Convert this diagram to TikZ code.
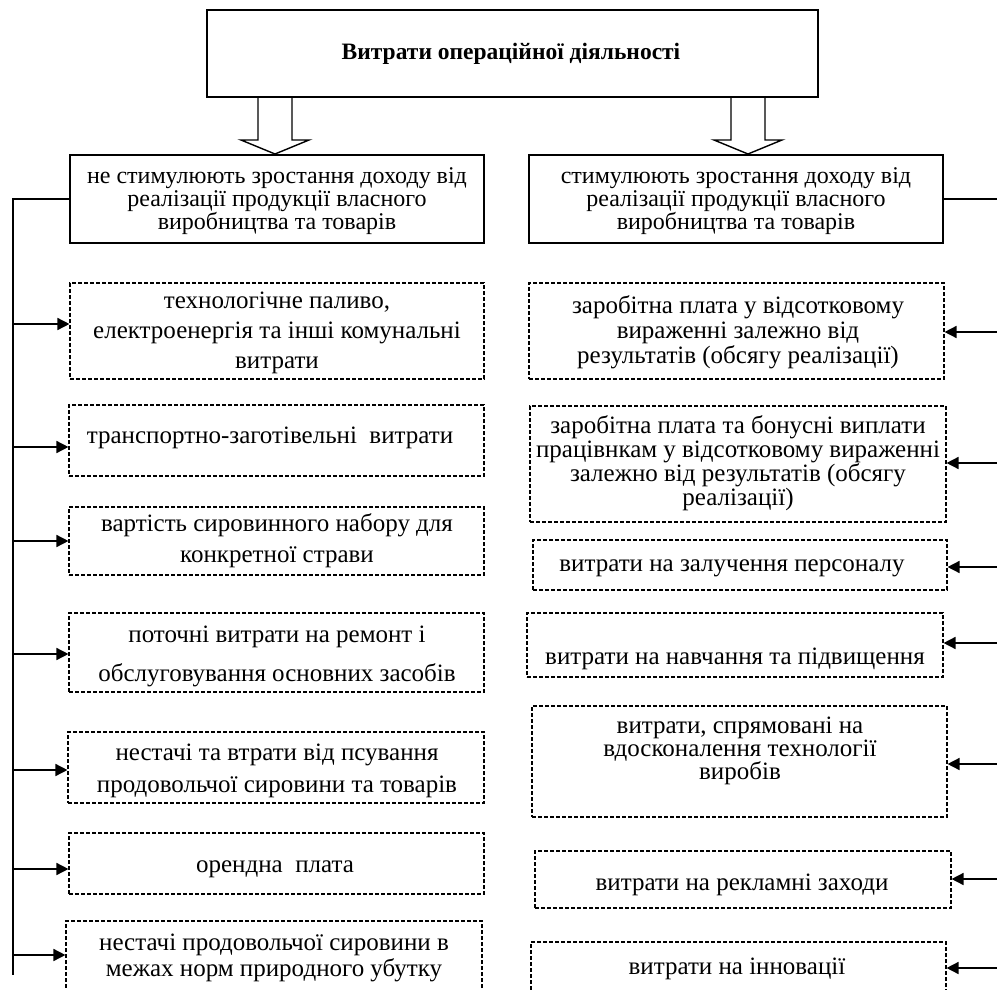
\documentclass[tikz,border=0pt]{standalone}
\usepackage{fontspec}
\setmainfont{Liberation Serif}
\usetikzlibrary{arrows.meta,calc}

% box from (x1,y1) to (x2,y2) in picture units, y growing downwards
\newcommand\boxnode[6]{%
  \node[#1, minimum width={(#5)-(#3)}, minimum height={(#6)-(#4)}] (#2)
    at ({((#3)+(#5))/2},{((#4)+(#6))/2}) {};}

\begin{document}
\begin{tikzpicture}[x=1pt,y=-1pt,
  solidbox/.style={draw, line width=2pt, inner sep=0pt},
  dbox/.style={draw, line width=1.1pt, dash pattern=on 4pt off 2pt, inner sep=0pt},
  txt/.style={align=center, inner sep=0pt, anchor=base},
  link/.style={line width=1.5pt},
  feed/.style={line width=1.5pt, -{Triangle[length=12pt,width=12pt]}},
  hollow/.style={line width=1.4pt, line join=miter}
]
\clip (0,0) rectangle (997,990);
\fill[white] (0,0) rectangle (997,990);

% top box and the two group boxes
\boxnode{solidbox}{top}{207}{10}{818}{97}
\node[txt, font=\fontsize{23.5}{24}\selectfont\bfseries] (toptxt) at (511,60)
  {Витрати операційної діяльності};

\boxnode{solidbox}{hl}{70}{155}{484}{243}
\node[txt, font=\fontsize{24}{23}\selectfont] (hltxt) at (277,229)
  {не стимулюють зростання доходу від\\реалізації продукції власного\\виробництва та товарів};

\boxnode{solidbox}{hr}{529}{155}{943}{243}
\node[txt, font=\fontsize{24}{23}\selectfont] (hrtxt) at (736,229)
  {стимулюють зростання доходу від\\реалізації продукції власного\\виробництва та товарів};

% hollow arrows from the top box to the group boxes
\coordinate (ta) at (275,97);
\coordinate (tb) at (748,97);
\foreach \c/\t in {ta/hl, tb/hr}{
  \draw[hollow]
    ($(\c)+(-17,0)$) -- ($(\c |- \t.north)+(-17,-14)$) -- ($(\c |- \t.north)+(-34,-14)$)
    -- (\c |- \t.north)
    -- ($(\c |- \t.north)+(34,-14)$) -- ($(\c |- \t.north)+(17,-14)$) -- ($(\c)+(17,0)$);
}

% left column
\boxnode{dbox}{l1}{70}{283}{484}{379}
\boxnode{dbox}{l2}{69}{405}{484}{476}
\boxnode{dbox}{l3}{69}{507}{484}{575}
\boxnode{dbox}{l4}{69}{613}{484}{692}
\boxnode{dbox}{l5}{68}{732}{484}{803}
\boxnode{dbox}{l6}{69}{833}{484}{894}
\boxnode{dbox}{l7}{66}{921}{482}{1010}

\node[txt, font=\fontsize{25}{30}\selectfont] (l1t) at (277,368)
  {технологічне паливо,\\електроенергія та інші комунальні\\витрати};
\node[txt, font=\fontsize{25}{30}\selectfont] (l2t) at (270,443)
  {транспортно-заготівельні\ \ витрати};
\node[txt, font=\fontsize{25}{31}\selectfont] (l3t) at (277,562)
  {вартість сировинного набору для\\конкретної страви};
\node[txt, font=\fontsize{25}{39}\selectfont] (l4t) at (277,681)
  {поточні витрати на ремонт і\\обслуговування основних засобів};
\node[txt, font=\fontsize{25}{32}\selectfont] (l5t) at (277,792)
  {нестачі та втрати від псування\\продовольчої сировини та товарів};
\node[txt, font=\fontsize{25}{26}\selectfont] (l6t) at (275,872)
  {орендна\ \ плата};
\node[txt, font=\fontsize{25}{26}\selectfont] (l7t) at (274,976)
  {нестачі продовольчої сировини в\\межах норм природного убутку};

% right column
\boxnode{dbox}{r1}{529}{283}{944}{379}
\boxnode{dbox}{r2}{530}{406}{946}{522}
\boxnode{dbox}{r3}{533}{540}{947}{590}
\boxnode{dbox}{r4}{527}{613}{943}{677}
\boxnode{dbox}{r5}{532}{706}{947}{817}
\boxnode{dbox}{r6}{535}{851}{951}{908}
\boxnode{dbox}{r7}{531}{942}{946}{1010}

\node[txt, font=\fontsize{25}{25}\selectfont] (r1t) at (738,363)
  {заробітна плата у відсотковому\\вираженні залежно від\\результатів (обсягу реалізації)};
\node[txt, font=\fontsize{25}{24}\selectfont] (r2t) at (738,505)
  {заробітна плата та бонусні виплати\\працівнкам у відсотковому вираженні\\залежно від результатів (обсягу\\реалізації)};
\node[txt, font=\fontsize{25}{25}\selectfont] (r3t) at (732,571)
  {витрати на залучення персоналу};
\node[txt, font=\fontsize{25}{25}\selectfont] (r4t) at (735,664)
  {витрати на навчання та підвищення};
\node[txt, font=\fontsize{25}{23}\selectfont] (r5t) at (740,779)
  {витрати, спрямовані на\\вдосконалення технології\\виробів};
\node[txt, font=\fontsize{25}{25}\selectfont] (r6t) at (742,890)
  {витрати на рекламні заходи};
\node[txt, font=\fontsize{25}{25}\selectfont] (r7t) at (737,974)
  {витрати на інновації};

% left trunk and its branches
\coordinate (ltop) at (13,199);
\coordinate (lbot) at (13,975);
\draw[link] (hl.west) -- (ltop) -- (lbot);
\foreach \b/\y in {l1/324, l2/447, l3/541, l4/654, l5/770, l6/869, l7/955}{
  \coordinate (la-\b) at (13,\y);
  \draw[feed] (la-\b) -- (la-\b -| \b.west);
}

% right trunk and its branches
\coordinate (rtop) at (1000,199);
\draw[link] (hr.east) -- (rtop);
\foreach \b/\y in {r1/332, r2/463, r3/567, r4/643, r5/764, r6/879, r7/968}{
  \coordinate (ra-\b) at (1000,\y);
  \draw[feed] (ra-\b) -- (ra-\b -| \b.east);
}
\end{tikzpicture}
\end{document}
